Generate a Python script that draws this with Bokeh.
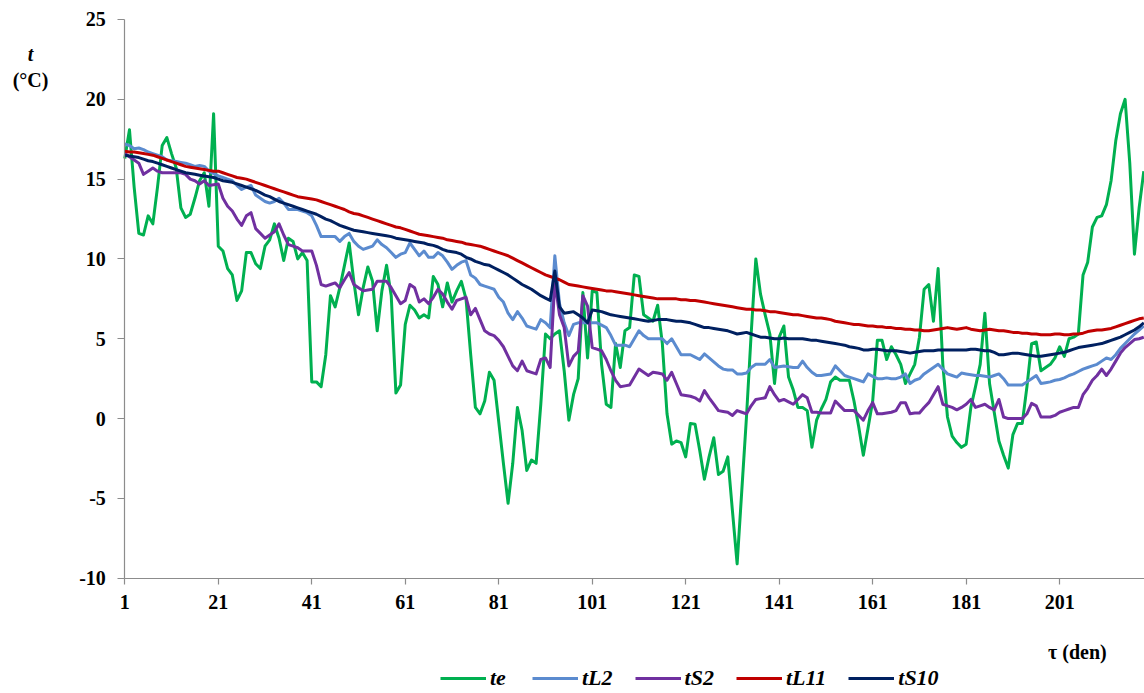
from bokeh.plotting import figure
from bokeh.models import Range1d, FixedTicker, Legend, LegendItem, Label
from bokeh.embed import file_html
from bokeh.resources import INLINE

# ---------------- data ----------------
days = list(range(1, 220))
tick_days = [1, 21, 41, 61, 81, 101, 121, 141, 161, 181, 201]
y_ticks = [-10, -5, 0, 5, 10, 15, 20, 25]

te = [
    16.3, 18.1, 14.5, 11.6, 11.5, 12.7, 12.2, 14.5, 17.1, 17.6,
    16.6, 15.7, 13.2, 12.6, 12.8, 13.8, 14.9, 15.4, 13.3, 19.1,
    10.8, 10.5, 9.4, 9.0, 7.4, 8.0, 10.4, 10.4, 9.7, 9.4,
    10.8, 11.2, 12.2, 11.3, 9.9, 11.3, 11.1, 10.0, 10.4, 9.9,
    2.3, 2.3, 2.0, 4.0, 7.7, 7.0, 8.2, 9.6, 11.0, 8.6,
    6.5, 8.2, 9.5, 8.6, 5.5, 8.0, 9.6, 7.7, 1.6, 2.1,
    5.9, 7.1, 6.8, 6.3, 6.5, 6.3, 8.9, 8.4, 7.0, 8.5,
    7.3, 8.0, 8.6, 7.5, 4.0, 0.7, 0.3, 1.1, 2.9, 2.4,
    -0.2, -2.8, -5.3, -2.8, 0.7, -0.75, -3.25, -2.6, -2.8, 0.9,
    5.3, 5.0, 5.3, 5.5, 3.0, -0.1, 1.5, 2.5, 7.9, 3.8,
    8.0, 7.9, 3.4, 0.9, 0.7, 4.7, 3.2, 5.5, 5.7, 9.0,
    8.9, 6.5, 6.3, 6.1, 7.1, 4.7, 0.3, -1.6, -1.4, -1.5,
    -2.4, -0.3, -0.35, -2.0, -3.8, -2.4, -1.2, -3.5, -3.3, -2.4,
    -5.8, -9.1, -4.5, 0.1, 5.3, 10.0, 7.8, 6.5, 5.3, 2.2,
    5.1, 5.8, 2.6, 1.8, 0.7, 0.7, 0.5, -1.8, -0.1, 0.6,
    1.2, 2.3, 2.6, 2.4, 2.4, 2.4, 1.1, -0.5, -2.3, -0.6,
    1.1, 4.9, 4.9, 3.7, 4.5, 4.0, 3.4, 2.2, 2.8, 3.4,
    5.1, 8.1, 8.4, 6.1, 9.4, 3.4, 0.1, -1.1, -1.5, -1.8,
    -1.6, 0.7, 2.0, 3.4, 6.6, 2.2, 0.4, -1.4, -2.3, -3.1,
    -1.0, -0.3, -0.3, 2.0, 4.7, 4.8, 3.0, 3.2, 3.4, 3.8,
    4.5, 3.9, 5.0, 5.1, 5.3, 9.0, 9.8, 12.0, 12.6, 12.7,
    13.4, 14.9, 17.4, 19.1, 20.0, 16.0, 10.3, 13.2, 15.5,
]

tL2 = [
    17.2, 17.1, 16.9, 16.95, 16.85, 16.7, 16.6, 16.5, 16.4, 16.2,
    16.15, 16.1, 16.05, 16.0, 15.9, 15.8, 15.85, 15.8, 15.5, 15.35,
    15.2, 15.1, 15.0, 14.9, 14.6, 14.35, 14.5, 14.6, 14.0, 13.8,
    13.6, 13.5, 13.6, 13.8, 13.5, 13.1, 13.1, 13.1, 13.0, 12.9,
    12.7, 12.1, 11.4, 11.4, 11.4, 11.4, 11.1, 11.4, 11.6, 11.1,
    10.8, 10.6, 10.7, 10.8, 11.2, 10.9, 10.7, 10.4, 10.1, 10.3,
    10.4, 11.0, 10.6, 10.2, 10.5, 10.1, 10.1, 10.4, 10.2, 9.8,
    9.35, 9.6, 9.8, 9.9, 9.0, 8.8, 8.4, 8.3, 8.2, 8.1,
    7.6, 7.3, 6.6, 6.2, 6.7, 6.3, 5.8, 5.7, 5.6, 6.2,
    6.0, 5.7, 10.2, 7.2, 6.0, 5.2, 5.9, 6.0, 6.0, 6.0,
    6.0, 6.0, 5.85, 5.7, 5.2, 4.6, 4.6, 4.6, 4.5, 5.0,
    5.5, 5.2, 5.0, 5.0, 5.0, 5.0, 4.7, 5.0, 4.5, 4.0,
    4.0, 4.0, 3.85, 3.7, 4.05, 3.8, 3.55, 3.3, 3.1, 3.05,
    3.05, 2.8, 2.8, 2.85, 3.2, 3.4, 3.4, 3.4, 3.7, 3.2,
    3.25, 3.3, 3.25, 3.2, 3.2, 3.6, 3.2, 2.9, 2.7, 2.7,
    2.75, 2.8, 3.3, 3.0, 2.7, 2.6, 2.5, 2.4, 2.3, 2.8,
    2.65, 2.5, 2.5, 2.55, 2.5, 2.5, 2.6, 2.8, 2.2, 2.4,
    2.5, 2.8, 3.0, 3.2, 3.4, 3.1, 2.8, 2.7, 2.6, 2.85,
    2.8, 2.75, 2.7, 2.7, 2.65, 2.6, 2.7, 2.8, 2.5, 2.1,
    2.1, 2.1, 2.1, 2.3, 2.5, 2.7, 2.2, 2.25, 2.3, 2.4,
    2.45, 2.55, 2.7, 2.8, 2.95, 3.1, 3.2, 3.3, 3.4, 3.6,
    3.8, 3.7, 4.0, 4.4, 4.7, 5.0, 5.3, 5.55, 5.8,
]

tS2 = [
    16.6, 16.4, 16.2, 16.0, 15.3, 15.5, 15.7, 15.5, 15.4, 15.4,
    15.4, 15.4, 15.4, 15.3, 15.0, 14.9, 14.7, 14.9, 14.6, 14.65,
    14.7, 13.8, 13.3, 13.0, 12.5, 12.1, 12.7, 12.9, 11.9, 11.6,
    11.3, 11.5, 11.7, 12.2, 11.5, 10.9, 10.8, 10.7, 10.5, 10.5,
    10.5, 9.6, 8.4, 8.3, 8.4, 8.5, 8.2, 8.7, 9.15, 8.4,
    8.2, 8.0, 8.05, 8.1, 8.6, 8.6, 8.6, 8.2, 7.7, 7.2,
    7.4, 8.4, 8.2, 7.3, 7.5, 7.2, 7.6, 8.1, 7.8, 7.3,
    6.85, 7.4, 7.5, 7.6, 6.5, 6.9, 6.2, 5.5, 5.3, 5.2,
    4.9, 4.5, 3.9, 3.3, 3.0, 3.6, 3.0, 2.9, 2.8, 3.7,
    3.8, 3.2, 8.6, 6.5, 5.7, 3.3, 3.9, 4.2, 7.7, 7.05,
    4.45, 4.35, 4.25, 3.7, 3.0, 2.4, 2.0, 2.05, 2.1, 2.6,
    3.1, 2.9, 2.7, 2.9, 2.85, 2.8, 2.4, 2.9, 2.2, 1.5,
    1.45, 1.4, 1.3, 1.1, 1.75, 1.3, 0.9, 0.5, 0.45, 0.4,
    0.2, 0.5, 0.4, 0.3, 0.8, 1.2, 1.25, 1.3, 2.0, 1.5,
    1.1, 1.2, 1.05, 0.9, 1.2, 1.5, 1.3, 0.4, 0.4, 0.35,
    0.35, 0.35, 1.1, 0.8, 0.5, 0.5, 0.5, 0.2, -0.1, 0.5,
    1.0, 0.3, 0.3, 0.35, 0.4, 0.5, 1.0, 1.0, 0.3, 0.35,
    0.35, 0.7, 1.0, 1.5, 2.0, 0.9, 0.8, 0.7, 0.55, 0.7,
    0.9, 1.2, 0.7, 0.8, 0.9, 0.7, 0.55, 1.2, 0.1, 0.0,
    0.0, 0.0, 0.0, 0.3, 0.95, 0.8, 0.1, 0.1, 0.1, 0.2,
    0.4, 0.5, 0.6, 0.7, 0.7, 1.5, 1.9, 2.4, 2.7, 3.1,
    2.7, 3.1, 3.6, 4.1, 4.45, 4.7, 4.95, 5.0, 5.1,
]

tL11 = [
    16.75, 16.7, 16.7, 16.65, 16.6, 16.55, 16.5, 16.4, 16.3, 16.2,
    16.1, 16.0, 15.9, 15.8, 15.75, 15.7, 15.65, 15.6, 15.55, 15.5,
    15.5, 15.4, 15.3, 15.2, 15.1, 15.05, 15.0, 14.9, 14.8, 14.7,
    14.6, 14.5, 14.4, 14.3, 14.2, 14.1, 14.0, 13.9, 13.85, 13.8,
    13.75, 13.7, 13.6, 13.5, 13.4, 13.3, 13.2, 13.1, 12.95, 12.85,
    12.8, 12.7, 12.6, 12.5, 12.4, 12.3, 12.2, 12.1, 12.0, 11.95,
    11.85, 11.75, 11.65, 11.55, 11.5, 11.45, 11.4, 11.35, 11.3, 11.2,
    11.15, 11.1, 11.05, 10.95, 10.9, 10.85, 10.8, 10.7, 10.6, 10.5,
    10.4, 10.3, 10.2, 10.05, 9.9, 9.75, 9.6, 9.45, 9.3, 9.15,
    9.0, 8.9, 8.8, 8.7, 8.55, 8.4, 8.35, 8.3, 8.25, 8.2,
    8.15, 8.1, 8.05, 8.0, 8.0, 7.95, 7.9, 7.85, 7.8, 7.75,
    7.7, 7.65, 7.6, 7.55, 7.5, 7.5, 7.5, 7.5, 7.5, 7.45,
    7.45, 7.4, 7.4, 7.35, 7.3, 7.25, 7.2, 7.15, 7.1, 7.05,
    7.0, 6.95, 6.9, 6.85, 6.85, 6.8, 6.8, 6.75, 6.7, 6.7,
    6.65, 6.6, 6.55, 6.5, 6.5, 6.45, 6.4, 6.35, 6.3, 6.3,
    6.25, 6.2, 6.1, 6.05, 6.0, 5.95, 5.9, 5.9, 5.85, 5.8,
    5.8, 5.75, 5.75, 5.7, 5.7, 5.65, 5.65, 5.6, 5.6, 5.55,
    5.55, 5.5, 5.5, 5.55, 5.6, 5.65, 5.7, 5.65, 5.6, 5.65,
    5.7, 5.6, 5.55, 5.5, 5.55, 5.6, 5.55, 5.5, 5.5, 5.45,
    5.4, 5.4, 5.35, 5.35, 5.3, 5.3, 5.25, 5.25, 5.25, 5.3,
    5.3, 5.25, 5.25, 5.3, 5.3, 5.35, 5.45, 5.5, 5.55, 5.55,
    5.6, 5.65, 5.75, 5.85, 5.95, 6.05, 6.15, 6.25, 6.3,
]

tS10 = [
    16.5, 16.45, 16.4, 16.35, 16.25, 16.15, 16.1, 16.0, 15.9, 15.8,
    15.7, 15.6, 15.5, 15.4, 15.35, 15.3, 15.25, 15.2, 15.15, 15.1,
    15.0, 14.9, 14.85, 14.8, 14.7, 14.6, 14.5, 14.4, 14.3, 14.15,
    14.0, 13.9, 13.75, 13.6, 13.5, 13.4, 13.3, 13.2, 13.1, 13.0,
    12.9, 12.8, 12.65, 12.5, 12.4, 12.25, 12.1, 12.0, 11.9, 11.8,
    11.75, 11.7, 11.65, 11.6, 11.55, 11.5, 11.45, 11.4, 11.3, 11.25,
    11.2, 11.15, 11.1, 11.05, 11.0, 10.9, 10.85, 10.75, 10.6, 10.5,
    10.45, 10.4, 10.3, 10.1, 10.0, 9.85, 9.75, 9.65, 9.6, 9.45,
    9.3, 9.15, 9.0, 8.8, 8.6, 8.4, 8.25, 8.1, 7.9, 7.7,
    7.55, 7.4, 9.25, 7.0, 6.6, 6.65, 6.7, 6.5, 6.3, 6.0,
    6.8, 6.75, 6.7, 6.6, 6.5, 6.45, 6.4, 6.35, 6.3, 6.25,
    6.2, 6.15, 6.1, 6.15, 6.2, 6.2, 6.2, 6.15, 6.1, 6.1,
    6.05, 6.0, 5.9, 5.8, 5.7, 5.7, 5.65, 5.6, 5.55, 5.5,
    5.4, 5.3, 5.35, 5.4, 5.3, 5.2, 5.1, 5.1, 5.05, 5.0,
    5.0, 5.05, 5.0, 5.0, 5.0, 5.0, 4.95, 4.9, 4.9, 4.85,
    4.8, 4.75, 4.7, 4.65, 4.6, 4.5, 4.45, 4.4, 4.3, 4.3,
    4.35, 4.35, 4.3, 4.25, 4.25, 4.25, 4.2, 4.15, 4.1, 4.15,
    4.2, 4.25, 4.25, 4.25, 4.3, 4.3, 4.3, 4.3, 4.3, 4.3,
    4.3, 4.35, 4.35, 4.3, 4.25, 4.25, 4.15, 4.0, 4.0, 4.05,
    4.1, 4.1, 4.05, 4.0, 3.95, 3.9, 3.9, 3.95, 4.0, 4.05,
    4.1, 4.15, 4.25, 4.35, 4.45, 4.5, 4.55, 4.6, 4.65, 4.7,
    4.8, 4.9, 5.0, 5.1, 5.25, 5.4, 5.55, 5.75, 6.0,
]

series_names = ["te", "tL2", "tS2", "tL11", "tS10"]
series_values = [te, tL2, tS2, tL11, tS10]
series_colors = ["#00B050", "#5B8BCF", "#7030A0", "#C00000", "#002060"]

FONT = "Liberation Serif"
AXIS_GRAY = "#8C8C8C"

# The frame covers the whole canvas; the axes are pinned at x=1 / y=-10
# so that the titles and the legend around them are drawn inside the frame.
p = figure(
    width=1144, height=693,
    x_range=Range1d(-25.59, 219.15), y_range=Range1d(-17.22, 26.19),
    output_backend="svg", toolbar_location=None,
    min_border=0, min_border_left=0, min_border_right=0,
    min_border_top=0, min_border_bottom=0,
)
p.outline_line_color = None
p.xgrid.grid_line_color = None
p.ygrid.grid_line_color = None
p.background_fill_color = "white"
p.border_fill_color = "white"

renderers = []
for name, vals, col in zip(series_names, series_values, series_colors):
    r = p.line(days, vals, line_color=col, line_width=3, line_join="round")
    renderers.append(r)

for ax in (p.xaxis[0], p.yaxis[0]):
    ax.axis_line_color = AXIS_GRAY
    ax.axis_line_width = 1.2
    ax.major_tick_line_color = AXIS_GRAY
    ax.major_tick_line_width = 1.2
    ax.minor_tick_line_color = None
    ax.major_tick_in = 0
    ax.major_label_text_font = FONT
    ax.major_label_text_font_style = "bold"
    ax.major_label_text_font_size = "20px"
    ax.major_label_text_color = "black"

p.xaxis.fixed_location = -10
p.xaxis.bounds = (1, 219.15)
p.xaxis.ticker = FixedTicker(ticks=tick_days)
p.xaxis.major_tick_out = 6
p.xaxis.major_label_standoff = 11

p.yaxis.fixed_location = 1
p.yaxis.bounds = (-10, 25)
p.yaxis.ticker = FixedTicker(ticks=y_ticks)
p.yaxis.major_tick_out = 7
p.yaxis.major_label_standoff = 12
p.yaxis.major_label_overrides = {-10: "-10", -5: "-5"}

def add_text(x, y, text, style):
    p.add_layout(Label(x=x, y=y, text=text, text_font=FONT,
                       text_font_style=style, text_font_size="20px",
                       text_align="center", text_baseline="middle",
                       text_color="black"))

add_text(-19.17, 22.87, "t", "bold italic")
add_text(-19.17, 21.18, "(°C)", "bold")
add_text(204.8, -14.59, "τ (den)", "bold")

legend = Legend(
    items=[LegendItem(label=n, renderers=[r]) for n, r in zip(series_names, renderers)],
    orientation="horizontal",
    location=(440, 2),
    label_text_font=FONT,
    label_text_font_style="bold italic",
    label_text_font_size="22px",
    label_text_color="black",
    glyph_width=46, glyph_height=20,
    label_standoff=4, spacing=22,
    padding=0, margin=0,
    border_line_color=None,
    background_fill_alpha=0,
)
p.add_layout(legend)

open("out.html", "w").write(file_html(p, INLINE))
